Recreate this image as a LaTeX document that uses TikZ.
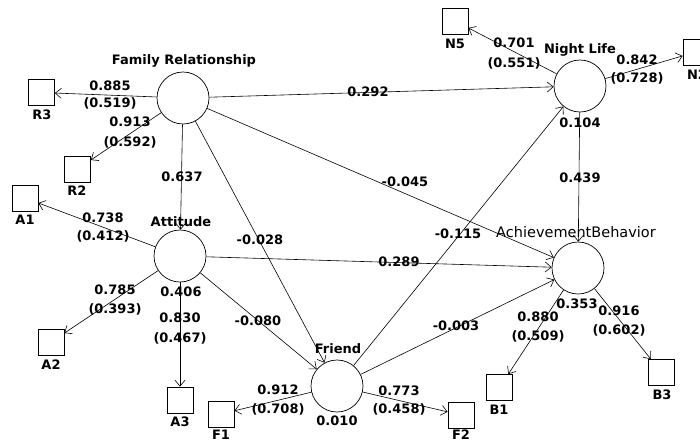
\documentclass[tikz,border=0pt]{standalone}
\usepackage{fontspec}
\setmainfont{DejaVu Sans}
\usetikzlibrary{arrows.meta}
\begin{document}
\begin{tikzpicture}[x=1pt,y=-1pt,
 lv/.style={circle,draw,line width=0.7pt,minimum size=52pt,inner sep=0pt},
 mv/.style={rectangle,draw,line width=0.7pt,minimum size=26pt,inner sep=0pt},
 txt/.style={inner sep=0pt,font=\fontsize{13}{15}\selectfont\bfseries},
 rtxt/.style={inner sep=0pt,font=\fontsize{14.5}{16}\selectfont},
 conn/.style={line width=0.6pt,-{Straight Barb[length=6pt,width=10pt]}}]
\useasboundingbox (0,0) rectangle (700,442);
\clip (0,0) rectangle (700,442);
% latent variables
\node[lv] (FR) at (183,98) {};
\node[lv] (AT) at (180,256) {};
\node[lv] (NL) at (580,86) {};
\node[lv] (AB) at (578,268) {};
\node[lv] (FN) at (337,386) {};
\node[txt] (tFR) at (184,61) {Family Relationship};
\node[txt] (tAT) at (181,222) {Attitude};
\node[txt] (tNL) at (580,50) {Night Life};
\node[rtxt] (tAB) at (576,232) {AchievementBehavior};
\node[txt] (tFN) at (338,349) {Friend};
\node[txt] (r2AT) at (181,292) {0.406};
\node[txt] (r2NL) at (580,123) {0.104};
\node[txt] (r2AB) at (577,304) {0.353};
\node[txt] (r2FN) at (337,421) {0.010};
% manifest variables
\node[mv] (R3) at (41.5,92.5) {};
\node[mv] (R2) at (77.5,169) {};
\node[mv] (A1) at (25,198) {};
\node[mv] (A2) at (51,342) {};
\node[mv] (A3) at (180,400) {};
\node[mv] (F1) at (221,414) {};
\node[mv] (N5) at (455,21) {};
\node[mv] (N2) at (696,52) {};
\node[mv] (B1) at (499.5,387.5) {};
\node[mv] (B3) at (661.5,372.5) {};
\node[mv] (F2) at (461,415) {};
\node[txt] (lR3) at (42,115) {R3};
\node[txt] (lR2) at (77,191) {R2};
\node[txt] (lA1) at (25,220) {A1};
\node[txt] (lA2) at (51,365) {A2};
\node[txt] (lA3) at (180,422) {A3};
\node[txt] (lF1) at (221,435) {F1};
\node[txt] (lN5) at (455,44) {N5};
\node[txt] (lN2) at (697,75) {N2};
\node[txt] (lB1) at (499,410) {B1};
\node[txt] (lB3) at (662,395) {B3};
\node[txt] (lF2) at (461,435) {F2};
% connectors
\draw[conn] (FR) -- (R3);
\draw[conn] (FR) -- (R2);
\draw[conn] (FR) -- (AT);
\draw[conn] (FR) -- (NL);
\draw[conn] (FR) -- (AB);
\draw[conn] (FR) -- (FN);
\draw[conn] (AT) -- (A1);
\draw[conn] (AT) -- (A2);
\draw[conn] (AT) -- (A3);
\draw[conn] (AT) -- (AB);
\draw[conn] (AT) -- (FN);
\draw[conn] (FN) -- (F1);
\draw[conn] (FN) -- (F2);
\draw[conn] (FN) -- (NL);
\draw[conn] (FN) -- (AB);
\draw[conn] (NL) -- (N5);
\draw[conn] (NL) -- (N2);
\draw[conn] (NL) -- (AB);
\draw[conn] (AB) -- (B1);
\draw[conn] (AB) -- (B3);
% coefficient labels
\node[txt] (c1a) at (110,86) {0.885};
\node[txt] (c1b) at (110,103) {(0.519)};
\node[txt] (c2a) at (130,122) {0.913};
\node[txt] (c2b) at (130,142) {(0.592)};
\node[txt] (c3) at (182,177) {0.637};
\node[txt] (c4) at (368,92) {0.292};
\node[txt] (c5) at (405,182) {-0.045};
\node[txt] (c6) at (260,240) {-0.028};
\node[txt] (c7a) at (103,218) {0.738};
\node[txt] (c7b) at (103,236) {(0.412)};
\node[txt] (c8a) at (115,290) {0.785};
\node[txt] (c8b) at (115,309) {(0.393)};
\node[txt] (c9a) at (180,318) {0.830};
\node[txt] (c9b) at (180,338) {(0.467)};
\node[txt] (c10) at (399,262) {0.289};
\node[txt] (c11) at (258,321) {-0.080};
\node[txt] (c12a) at (278,390) {0.912};
\node[txt] (c12b) at (278,409) {(0.708)};
\node[txt] (c13a) at (399,391) {0.773};
\node[txt] (c13b) at (399,409) {(0.458)};
\node[txt] (c14) at (458,234) {-0.115};
\node[txt] (c15) at (456,326) {-0.003};
\node[txt] (c16a) at (514,43) {0.701};
\node[txt] (c16b) at (514,63) {(0.551)};
\node[txt] (c17a) at (637,60) {0.842};
\node[txt] (c17b) at (637,78) {(0.728)};
\node[txt] (c18) at (580,178) {0.439};
\node[txt] (c19a) at (538,317) {0.880};
\node[txt] (c19b) at (538,336) {(0.509)};
\node[txt] (c20a) at (619,311) {0.916};
\node[txt] (c20b) at (619,330) {(0.602)};
\end{tikzpicture}
\end{document}
